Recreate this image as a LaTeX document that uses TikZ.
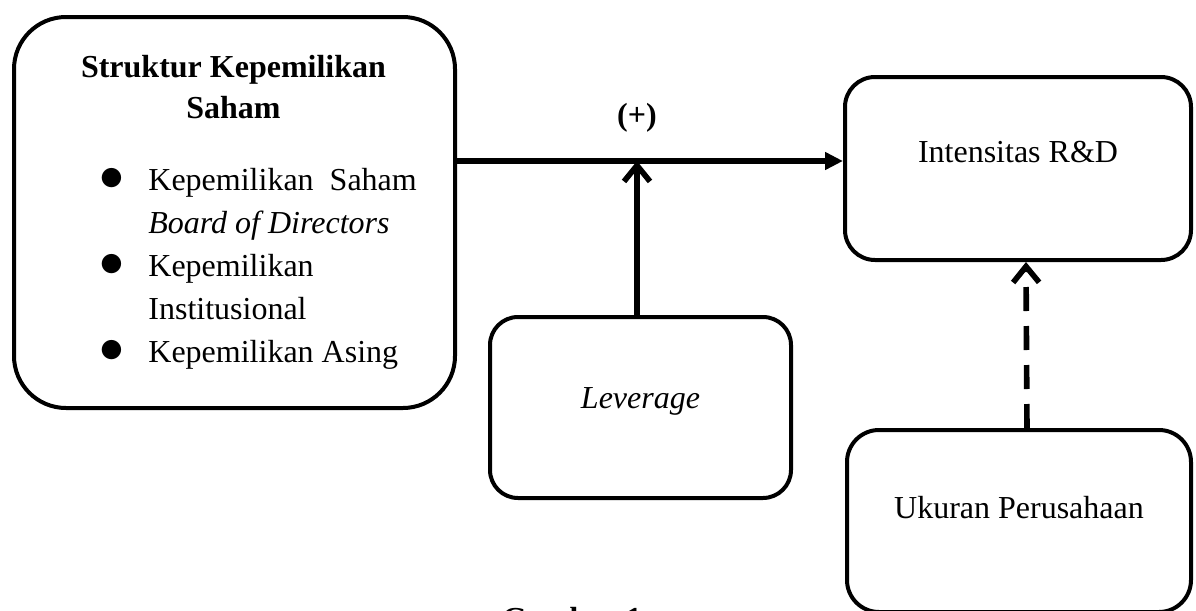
\documentclass[tikz,border=0pt]{standalone}
\usepackage{fontspec}
\setmainfont{Liberation Serif}
\usepackage{tikz}
\usetikzlibrary{positioning}
\usetikzlibrary{arrows.meta}

\begin{document}
\begin{tikzpicture}
		[x=0.5pt, y=-0.5pt,
		font=\fontsize{16}{21.5}\selectfont,
		kotak/.style={draw, line width=2pt, align=center},
		panah/.style={line width=2.8pt, -{Triangle[length=9pt, width=8.5pt]}},
		panahv/.style={line width=2.8pt, -{Straight Barb[length=8pt, width=13pt, line width=2.8pt]}}]
		\useasboundingbox (0,0) rectangle (1196,611);
		\node[kotak, rounded corners=26pt, minimum width=220.5pt, minimum height=195.5pt] (skp) at (234.5,212.5) {};
		\node[anchor=base] (judul) at (233.5,77) {\begin{tabular}[t]{@{}c@{}}\textbf{Struktur Kepemilikan}\\[-1pt]\textbf{Saham}\end{tabular}};
		\node[anchor=base west, inner sep=0pt] (daftar) at (99,190) {\begin{tabular}[t]{@{}p{24.5pt}@{}l@{}}
			{\fontsize{23}{23}\selectfont$\bullet$} & Kepemilikan\ \ Saham\\
			& \textit{Board of Directors}\\
			{\fontsize{23}{23}\selectfont$\bullet$} & Kepemilikan\\
			& Institusional\\
			{\fontsize{23}{23}\selectfont$\bullet$} & Kepemilikan Asing
		\end{tabular}};
		\node[kotak, rounded corners=15pt, minimum width=173pt, minimum height=91.5pt, text height=5pt, text depth=10.9pt] (ird) at (1018,168.5) {Intensitas R\&D};
		\node[kotak, rounded corners=14pt, minimum width=150.5pt, minimum height=90.5pt, text height=8pt, text depth=6.9pt] (lev) at (640.5,407.5) {\textit{Leverage}};
		\node[kotak, rounded corners=16pt, minimum width=172pt, minimum height=91pt, text height=6pt, text depth=8.4pt] (uk) at (1019,521) {Ukuran Perusahaan};
		\coordinate (temu) at (637,161);
		\node (tanda) at (637,118) {\textbf{(+)}};
		\draw[panah] (skp.east |- temu) -- (ird.west |- temu);
		\draw[panahv] (lev.north -| temu) -- (temu);
		\draw[panahv, dash pattern=on 12pt off 7.5pt] ([xshift=4pt]uk.north) -- ([xshift=4pt]ird.south);
		\node[anchor=base] (gambar) at (572,629) {\textbf{Gambar 1}};
	\end{tikzpicture}
\end{document}
